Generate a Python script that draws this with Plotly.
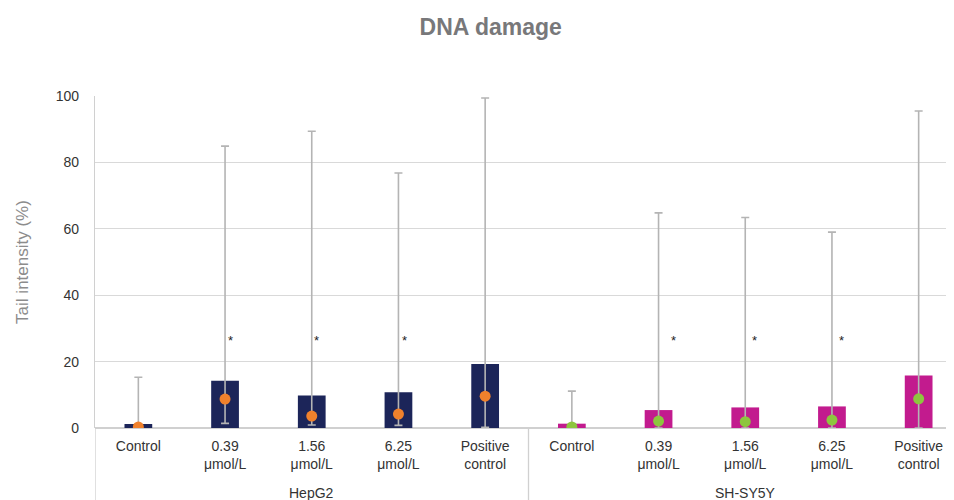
import plotly.graph_objects as go

categories = ["Control", "0.39<br>μmol/L", "1.56<br>μmol/L", "6.25<br>μmol/L", "Positive<br>control"]
groups = ["HepG2", "SH-SY5Y"]

hep_bar = [1.2, 14.2, 9.8, 10.8, 19.3]
hep_dot = [0.3, 8.7, 3.6, 4.2, 9.6]
hep_max = [15.3, 84.9, 89.4, 76.8, 99.4]
hep_min = [0.0, 1.4, 0.9, 0.8, 0.2]

sh_bar = [1.3, 5.4, 6.2, 6.5, 15.8]
sh_dot = [0.3, 2.1, 1.9, 2.4, 8.8]
sh_max = [11.1, 64.8, 63.4, 59.0, 95.5]
sh_min = [0.0, 0.0, 0.0, 0.0, 0.0]

star_hep = [False, True, True, True, False]
star_sh = [False, True, True, True, False]
star_y = 26.5

xs = list(range(10))
ticktext = categories + categories

FONT = "Arial, Liberation Sans, sans-serif"
GREY = "#b4b4b4"

fig = go.Figure()

def add_group(x, bar, dot, vmax, vmin, bar_color, dot_color):
    fig.add_trace(go.Bar(
        x=x, y=bar, width=0.32, marker=dict(color=bar_color, line=dict(width=0)),
        error_y=dict(type="data", symmetric=False,
                     array=[m - b for m, b in zip(vmax, bar)],
                     arrayminus=[b - m for m, b in zip(vmin, bar)],
                     color=GREY, thickness=1.6, width=4),
        showlegend=False, hoverinfo="y"))
    fig.add_trace(go.Scatter(
        x=x, y=dot, mode="markers",
        marker=dict(color=dot_color, size=11, line=dict(width=0)),
        showlegend=False))

add_group(xs[:5], hep_bar, hep_dot, hep_max, hep_min, "#1c2559", "#f0812c")
add_group(xs[5:], sh_bar, sh_dot, sh_max, sh_min, "#c21b8e", "#8dc63f")

shifts = [0, 5, 5, 6, 0, 0, 15, 9, 10, 0]
for i, s in enumerate(star_hep + star_sh):
    if s:
        fig.add_annotation(x=xs[i], y=star_y, text="*", showarrow=False,
                           xshift=shifts[i], font=dict(family=FONT, size=13, color="#222"))

for gi, g in enumerate(groups):
    fig.add_annotation(x=xs[gi * 5 + 2], y=0, yref="paper", yshift=-75, text=g,
                       showarrow=False, font=dict(family=FONT, size=14, color="#333"))

# group separators
for xv in [-0.5, 4.5]:
    fig.add_shape(type="line", x0=xv, x1=xv, y0=0, y1=-80 / 332, xref="x", yref="paper",
                  line=dict(color="#d0d0d0", width=1.3))

fig.update_layout(
    width=954, height=500,
    margin=dict(l=87, r=0, t=88, b=80, autoexpand=False),
    paper_bgcolor="white", plot_bgcolor="white",
    title=dict(text="<b>DNA damage</b>", x=0.506, xanchor="center", y=1 - 19 / 500,
               yanchor="middle", yref="container",
               font=dict(family=FONT, size=23, color="#78787a")),
    font=dict(family=FONT, size=14, color="#333"),
    bargap=0.6,
    xaxis=dict(tickmode="array", tickvals=xs, ticktext=ticktext, range=[-0.5, 9.5],
               showgrid=False, zeroline=False, showline=False, ticks="", automargin=False,
               ticklabelstandoff=8,
               tickfont=dict(family=FONT, size=14, color="#333")),
    yaxis=dict(range=[0, 100], tickvals=[0, 20, 40, 60, 80, 100], showgrid=True,
               gridcolor="#d9d9d9", gridwidth=1.3, zeroline=True, zerolinecolor="#d0d0d0",
               zerolinewidth=1.5, showline=True, linecolor="#d0d0d0", linewidth=1.3,
               ticks="", ticklen=0, automargin=False, ticklabelstandoff=12,
               tickfont=dict(family=FONT, size=14, color="#333"),
               title=dict(text="Tail intensity (%)", standoff=22,
                          font=dict(family=FONT, size=17, color="#8c8c8c"))),
)

fig.write_html("out.html")
